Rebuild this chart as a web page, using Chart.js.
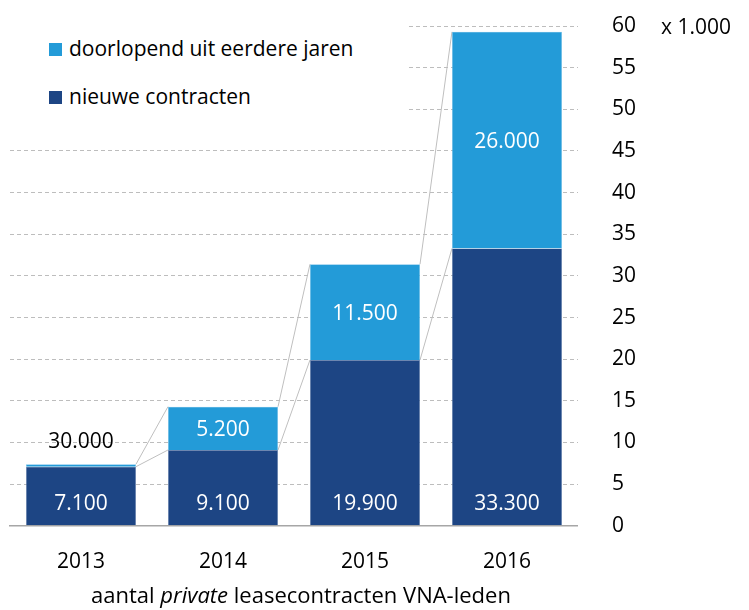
<!DOCTYPE html>
<html>
<head>
<meta charset="utf-8">
<script src="https://cdn.jsdelivr.net/npm/chart.js@4"></script>
<style>
    body { margin: 0; background: #fff; font-family: "Open Sans", sans-serif; }
    #wrap { position: relative; width: 749px; height: 610px; }
    #legend {
        position: absolute; left: 10px; top: 0; width: 398px; height: 125px;
        background: #fff; pointer-events: none;
    }
    .item { position: absolute; left: 39px; font-size: 21px; color: #000; line-height: 24px; }
    .item span { display: inline-block; width: 13px; height: 13px; margin-right: 7px; vertical-align: 0; }
    #unit { position: absolute; left: 661px; top: 12px; font-size: 21px; color: #000; line-height: 28px; }
    #caption { position: absolute; left: 0; width: 602px; top: 580px; text-align: center; font-size: 22px; color: #000; line-height: 28px; }
</style>
</head>
<body>
<div id="wrap">
    <canvas id="chart" width="749" height="610"></canvas>
    <div id="legend"></div>
    <div id="unit">x 1.000</div>
    <div id="caption">aantal <i>private</i> leasecontracten VNA-leden</div>
</div>
<script>
const years = ['2013', '2014', '2015', '2016'];
const nieuwe = [7.1, 9.1, 19.9, 33.3];
const doorlopend = [0.3, 5.2, 11.5, 26.0];
const nieuweLabels = ['7.100', '9.100', '19.900', '33.300'];
const doorlopendLabels = ['30.000', '5.200', '11.500', '26.000'];
const seriesNames = ['nieuwe contracten', 'doorlopend uit eerdere jaren'];
const seriesColors = ['#1d4584', '#239bd8'];

const fontFamily = '"Open Sans", sans-serif';

// Build the legend (light series first, like the original)
const legend = document.getElementById('legend');
[1, 0].forEach((idx, n) => {
    const div = document.createElement('div');
    div.className = 'item';
    div.style.top = (36 + n * 48) + 'px';
    div.innerHTML = `<span style="background:${seriesColors[idx]}"></span>${seriesNames[idx]}`;
    legend.appendChild(div);
});

// Thin grey lines joining the tops of the segments of neighbouring bars
const connectorPlugin = {
    id: 'connectors',
    beforeDatasetsDraw(chart) {
        const ctx = chart.ctx;
        ctx.save();
        ctx.strokeStyle = '#bfbfbf';
        ctx.lineWidth = 1;
        chart.data.datasets.forEach((ds, d) => {
            const bars = chart.getDatasetMeta(d).data;
            for (let i = 0; i < bars.length - 1; i++) {
                const a = bars[i];
                const b = bars[i + 1];
                ctx.beginPath();
                ctx.moveTo(a.x + a.width / 2, a.y);
                ctx.lineTo(b.x - b.width / 2, b.y);
                ctx.stroke();
            }
        });
        ctx.restore();
    }
};

// Value labels inside the segments
const labelPlugin = {
    id: 'segmentLabels',
    afterDatasetsDraw(chart) {
        const ctx = chart.ctx;
        ctx.save();
        ctx.font = '21px ' + fontFamily;
        ctx.textAlign = 'center';
        ctx.textBaseline = 'middle';
        const lists = [nieuweLabels, doorlopendLabels];
        chart.data.datasets.forEach((ds, d) => {
            chart.getDatasetMeta(d).data.forEach((bar, i) => {
                const h = bar.base - bar.y;
                let y;
                if (d === 0) {
                    y = bar.base - 21;
                    ctx.fillStyle = '#fff';
                } else if (h < 26) {
                    y = bar.y - 22;
                    ctx.fillStyle = '#000';
                } else {
                    y = (bar.y + bar.base) / 2 + 2;
                    ctx.fillStyle = '#fff';
                }
                ctx.fillText(lists[d][i], bar.x, y);
            });
        });
        ctx.restore();
    }
};

new Chart(document.getElementById('chart'), {
    type: 'bar',
    data: {
        labels: years,
        datasets: [
            {
                label: seriesNames[0],
                data: nieuwe,
                backgroundColor: seriesColors[0],
                borderColor: '#7d95bb',
                borderWidth: 0.5,
                barPercentage: 0.775,
                categoryPercentage: 1
            },
            {
                label: seriesNames[1],
                data: doorlopend,
                backgroundColor: seriesColors[1],
                borderColor: '#8fcbeb',
                borderWidth: 0.5,
                barPercentage: 0.775,
                categoryPercentage: 1
            }
        ]
    },
    options: {
        responsive: false,
        animation: false,
        layout: { padding: { left: 10, right: 113, top: 26, bottom: 19 } },
        plugins: {
            legend: { display: false },
            tooltip: { enabled: false }
        },
        scales: {
            x: {
                stacked: true,
                grid: { display: false },
                border: { display: true, color: '#a6a6a6', width: 1.5 },
                ticks: { color: '#000', font: { family: fontFamily, size: 21 }, padding: 16 }
            },
            y: {
                stacked: true,
                position: 'right',
                min: 0,
                max: 60,
                // invisible tick marks push the labels away from the plot
                grid: { color: '#bdbdbd', drawTicks: true, tickLength: 34, tickColor: 'rgba(0,0,0,0)' },
                border: { display: false, dash: [4, 3] },
                ticks: { stepSize: 5, color: '#000', padding: 0, font: { family: fontFamily, size: 21 } }
            }
        }
    },
    plugins: [connectorPlugin, labelPlugin]
});
</script>
</body>
</html>
